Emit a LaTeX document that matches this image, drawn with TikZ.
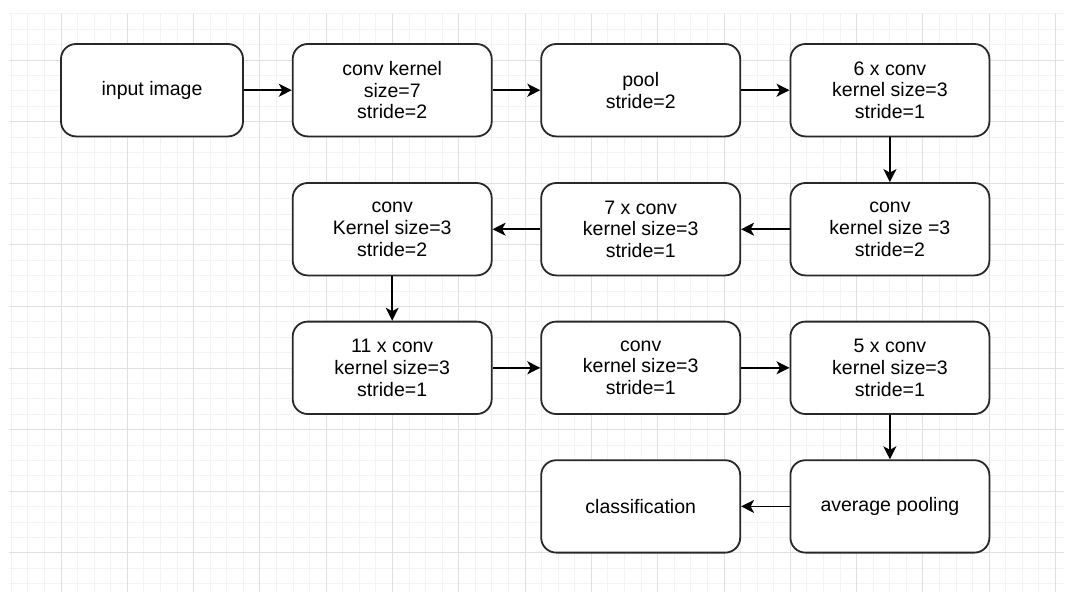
\documentclass[tikz,border=0pt]{standalone}
\usepackage{fontspec}
\setmainfont{Liberation Sans}
\usetikzlibrary{arrows.meta}
\definecolor{gridminor}{RGB}{243,243,243}
\definecolor{gridmajor}{RGB}{224,224,224}
\definecolor{boxline}{RGB}{40,40,40}
\tikzset{
  stagebox/.style={draw=boxline, line width=1.8pt, rounded corners=15pt, fill=white,
    minimum width=199pt, minimum height=92.4pt, inner sep=0pt, align=center,
    font=\fontsize{19.5}{21.7}\selectfont, text=black},
  flow/.style={draw=black, line width=1.6pt, -{Stealth[length=13pt,width=13pt,inset=3.5pt]}},
}
\begin{document}
\begin{tikzpicture}[x=1pt,y=-1pt]
\useasboundingbox (0,0) rectangle (1067,592);
\fill[white] (0,0) rectangle (1067,592);
% minor grid
\foreach \k in {-3,...,60} {
  \draw[gridminor, line width=1pt] ({61+16.575*\k},14) -- ({61+16.575*\k},592);
}
\foreach \k in {-3,...,34} {
  \draw[gridminor, line width=1pt] (9,{60+15.4*\k}) -- (1064,{60+15.4*\k});
}
% major grid
\foreach \k in {0,4,...,60} {
  \draw[gridmajor, line width=1pt] ({61+16.575*\k},14) -- ({61+16.575*\k},592);
}
\foreach \k in {0,4,...,32} {
  \draw[gridmajor, line width=1pt] (9,{60+15.4*\k}) -- (1064,{60+15.4*\k});
}
% boxes
\node[stagebox, minimum width=182pt] (input) at (152,90.2) {input image};
\node[stagebox] (conv7) at (392.2,90.2) {conv kernel\\size=7\\stride=2};
\node[stagebox] (pool) at (640.7,90.2) {pool\\stride=2};
\node[stagebox] (six) at (889.9,90.2) {6 x conv\\kernel size=3\\stride=1};
\node[stagebox] (convb) at (889.9,229.2) {conv\\kernel size =3\\stride=2};
\node[stagebox] (seven) at (640.7,229.2) {7 x conv\\kernel size=3\\stride=1};
\node[stagebox] (convc) at (392.2,229.2) {conv\\Kernel size=3\\stride=2};
\node[stagebox] (eleven) at (392.2,367.8) {11 x conv\\kernel size=3\\stride=1};
\node[stagebox] (convd) at (640.7,367.8) {conv\\kernel size=3\\stride=1};
\node[stagebox] (five) at (889.9,367.8) {5 x conv\\kernel size=3\\stride=1};
\node[stagebox] (avg) at (889.9,506.4) {average pooling};
\node[stagebox] (cls) at (640.7,506.4) {classification};
% connectors
\draw[flow] (input) -- (conv7);
\draw[flow] (conv7) -- (pool);
\draw[flow] (pool) -- (six);
\draw[flow] (six) -- (convb);
\draw[flow] (convb) -- (seven);
\draw[flow] (seven) -- (convc);
\draw[flow] (convc) -- (eleven);
\draw[flow] (eleven) -- (convd);
\draw[flow] (convd) -- (five);
\draw[flow] (five) -- (avg);
\draw[flow] (avg) -- (cls);
\end{tikzpicture}
\end{document}
